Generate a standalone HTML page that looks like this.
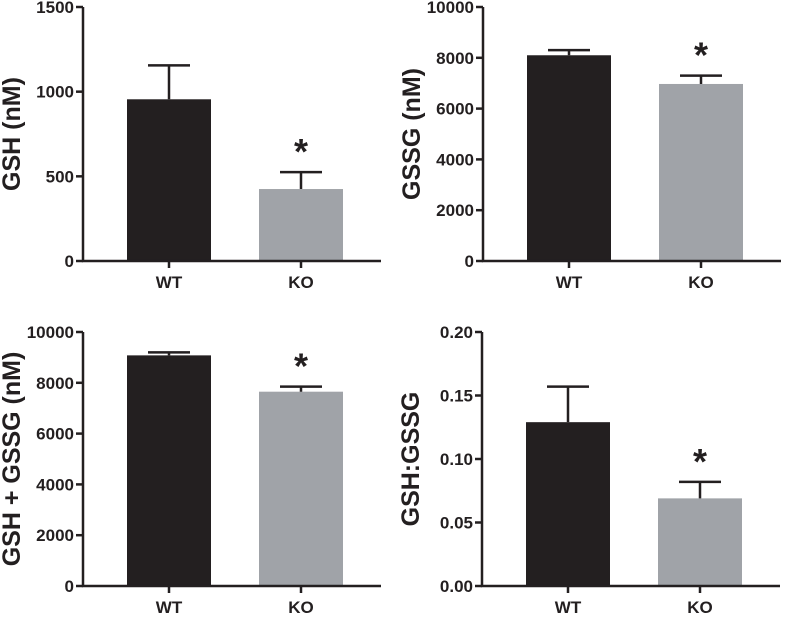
<!DOCTYPE html>
<html><head><meta charset="utf-8"><style>
html,body{margin:0;padding:0;background:#fff}
svg text{font-family:"Liberation Sans",Arial,sans-serif;font-weight:bold;fill:#231f20}
</style></head><body>
<svg id="c" width="787" height="615"></svg>
<script>
const categories = ["WT","KO"];
const gshMeans = [955, 425];
const gshErr = [200, 100];
const gssgMeans = [8100, 6970];
const gssgErr = [200, 330];
const totalMeans = [9080, 7650];
const totalErr = [120, 200];
const ratioMeans = [0.129, 0.069];
const ratioErr = [0.028, 0.013];
const gshTicks = ["0","500","1000","1500"];
const gssgTicks = ["0","2000","4000","6000","8000","10000"];
const totalTicks = ["0","2000","4000","6000","8000","10000"];
const ratioTicks = ["0.00","0.05","0.10","0.15","0.20"];
const sig = [false, true];

const NS="http://www.w3.org/2000/svg";
const svg=document.getElementById('c');
function el(t,a,p){const e=document.createElementNS(NS,t);for(const k in a)e.setAttribute(k,a[k]);(p||svg).appendChild(e);return e;}

function panel(name,ox,oy,title,ticks,means,errs){
  const g=el('g',{});
  
  
  const ax=ox, top=oy, bot=oy+254, right=ox+298;
  const maxV=parseFloat(ticks[ticks.length-1]);
  const y=v=>bot-(v/maxV)*(bot-top);
  const xc=[ax+86, ax+218];
  const bw=84;
  means.forEach((m,i)=>{
    const r=el('rect',{x:xc[i]-bw/2,y:y(m),width:bw,height:bot-y(m),fill:i==0?'#231f20':'#a0a3a8'},g);
    
    
    const e=el('path',{d:`M${xc[i]} ${y(m)} V${y(m+errs[i])} M${xc[i]-21} ${y(m+errs[i])} H${xc[i]+21}`,stroke:'#231f20','stroke-width':2.5,fill:'none'},g);
    
    
    if(sig[i]){
      const s=el('text',{x:xc[i],y:y(m+errs[i])-8,'text-anchor':'middle','font-size':36},g);
      s.textContent='*';
      
      
    }
    el('line',{x1:xc[i],x2:xc[i],y1:bot,y2:bot+7,stroke:'#231f20','stroke-width':2.5},g);
    const lb=el('text',{x:xc[i],y:bot+27,'text-anchor':'middle','font-size':17},g);
    lb.textContent=categories[i];
    
    
  });
  el('path',{d:`M${ax} ${top} V${bot} H${right}`,stroke:'#231f20','stroke-width':2.5,fill:'none'},g);
  ticks.forEach(t=>{
    const v=parseFloat(t);
    el('line',{x1:ax-7,x2:ax,y1:y(v),y2:y(v),stroke:'#231f20','stroke-width':2.5},g);
    const tl=el('text',{x:ax-9,y:y(v)+6,'text-anchor':'end','font-size':17},g);
    tl.textContent=t;
    
    
  });
  const yt=el('text',{x:0,y:0,'text-anchor':'middle','font-size':25,transform:`translate(${ax-63},${(top+bot)/2}) rotate(-90)`},g);
  yt.textContent=title;
  
  
}
panel('gsh',83,7,'GSH (nM)',gshTicks,gshMeans,gshErr);
panel('gssg',483,7,'GSSG (nM)',gssgTicks,gssgMeans,gssgErr);
panel('total',83,332,'GSH + GSSG (nM)',totalTicks,totalMeans,totalErr);
panel('ratio',482,332,'GSH:GSSG',ratioTicks,ratioMeans,ratioErr);
</script>
</body></html>
